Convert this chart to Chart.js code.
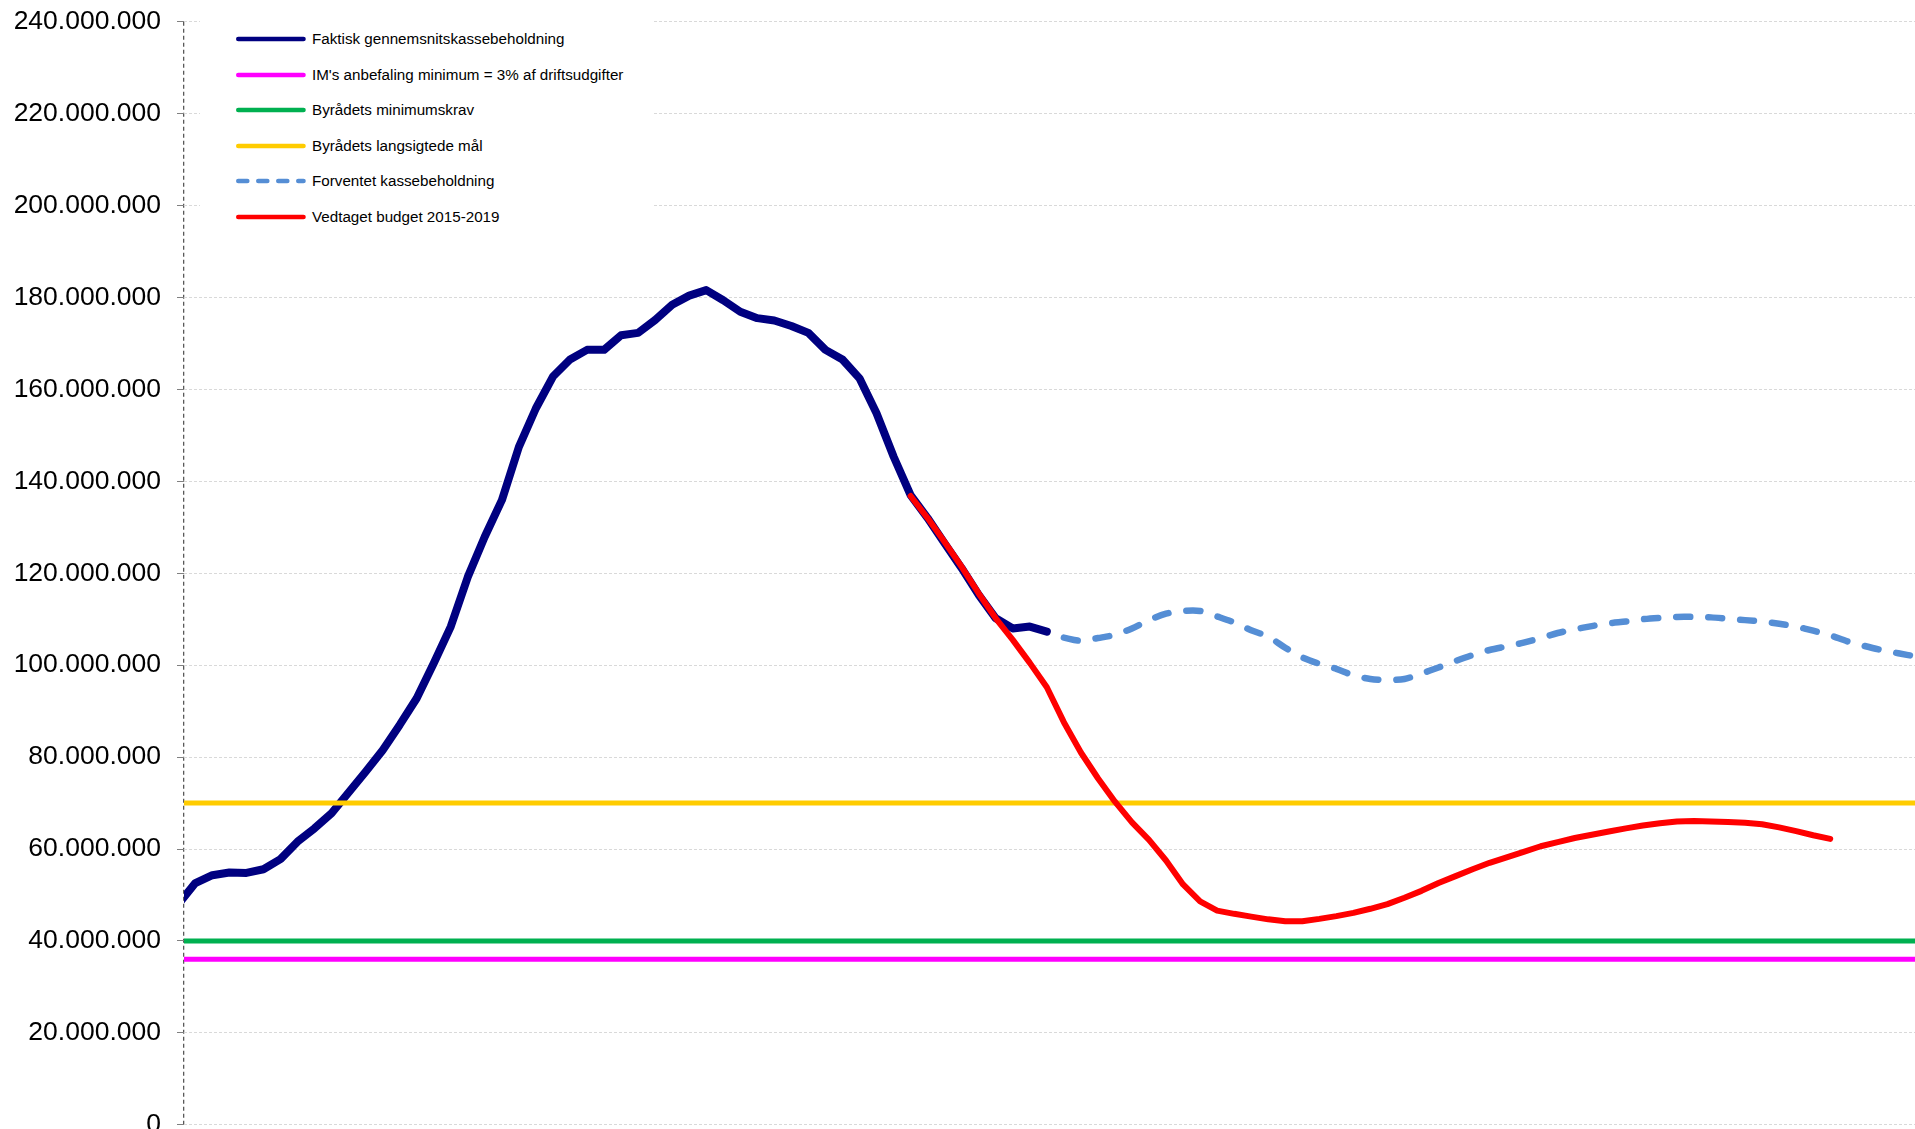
<!DOCTYPE html>
<html>
<head>
<meta charset="utf-8">
<script src="https://cdn.jsdelivr.net/npm/chart.js@4.4.1/dist/chart.umd.min.js"></script>
<style>
  html, body { margin:0; padding:0; background:#fff; overflow:hidden; width:1915px; height:1129px; }
  #wrap { position:relative; width:1915px; height:1129px; overflow:hidden; background:#fff; }
  #chart { position:absolute; left:0; top:0; }
  #legend { position:absolute; left:200px; top:0; width:454px; height:248px; background:#fff;
            font-family:'Liberation Sans', Arial, sans-serif; font-size:15.2px; color:#000; }
  .item { position:absolute; left:0; height:20px; width:454px; }
  .item svg { position:absolute; left:36px; top:4px; }
  .item span { position:absolute; left:112px; top:0; line-height:20px; white-space:nowrap; }
</style>
</head>
<body>
<div id="wrap">
  <canvas id="chart" width="2000" height="1145" style="width:2000px;height:1145px;"></canvas>
  <div id="legend"></div>
</div>
<script>
// ---- Data (mio. kr., one value per period index) ----
const faktiskStart = 0;
const faktisk = [48.0, 52.6, 54.3, 54.9, 54.8, 55.6, 57.8, 61.6, 64.5, 67.8, 72.3, 76.8, 81.5, 87.0, 92.8, 100.4,
  108.4, 119.2, 128.0, 135.9, 147.5, 155.9, 162.8, 166.5, 168.6, 168.6, 171.8, 172.3, 175.1, 178.4, 180.4, 181.6,
  179.4, 176.9, 175.5, 175.0, 173.8, 172.3, 168.6, 166.5, 162.4, 154.8, 145.4, 137.0, 132.0, 126.5, 121.1, 115.3,
  110.2, 108.0, 108.4, 107.3];

const budgetStart = 43;
const budget = [136.8, 132.0, 126.8, 121.4, 115.6, 110.2, 105.5, 100.5, 95.2, 87.6, 81.0, 75.4, 70.3, 65.8, 62.0,
  57.5, 52.3, 48.6, 46.6, 45.9, 45.3, 44.7, 44.3, 44.3, 44.8, 45.4, 46.1, 47.0, 48.0, 49.4, 50.9, 52.6, 54.1, 55.6,
  57.0, 58.2, 59.4, 60.6, 61.5, 62.4, 63.1, 63.8, 64.5, 65.1, 65.6, 66.0, 66.1, 66.0, 65.9, 65.7, 65.4, 64.7, 63.9,
  63.0, 62.2];

const forventetStart = 52;
const forventet = [106.0, 105.3, 105.9, 106.6, 108.0, 109.8, 111.2, 111.8, 111.8, 110.6, 109.3, 107.6, 106.2, 103.8,
  101.7, 100.3, 99.2, 97.8, 97.0, 96.8, 97.0, 98.2, 99.5, 100.9, 102.2, 103.3, 104.1, 104.9, 105.9, 107.0, 107.8,
  108.5, 109.1, 109.5, 110.0, 110.3, 110.5, 110.5, 110.4, 110.1, 109.8, 109.5, 109.0, 108.4, 107.5, 106.5, 105.2,
  104.2, 103.3, 102.6, 101.9, 101.2];

const imMinimum = 36;       // IM's anbefaling minimum = 3% af driftsudgifter
const byraadMinimum = 40;   // Byrådets minimumskrav
const byraadMaal = 70;      // Byrådets langsigtede mål

const yTickValues = [0, 20, 40, 60, 80, 100, 120, 140, 160, 180, 200, 220, 240];

const seriesLabels = [
  'Faktisk gennemsnitskassebeholdning',
  "IM's anbefaling minimum = 3% af driftsudgifter",
  'Byrådets minimumskrav',
  'Byrådets langsigtede mål',
  'Forventet kassebeholdning',
  'Vedtaget budget 2015-2019'
];
const seriesColors = ['#000080', '#FF00FF', '#00B050', '#FFCC00', '#558ED5', '#FF0000'];

// ---- Build ----
const lastIdx = forventetStart + forventet.length - 1;
const pts = (start, arr) => arr.map((v, k) => ({ x: start + k, y: v }));
const flat = v => [{ x: 0, y: v }, { x: lastIdx, y: v }];
const fmt = v => (v === 0 ? '0' : String(Math.round(v * 1e6)).replace(/\B(?=(\d{3})+(?!\d))/g, '.'));

const FONT = "'Liberation Sans', Arial, sans-serif";

new Chart(document.getElementById('chart'), {
  type: 'line',
  data: {
    datasets: [
      { label: seriesLabels[5], data: pts(budgetStart, budget), borderColor: seriesColors[5], borderWidth: 6, order: 1 },
      { label: seriesLabels[4], data: pts(forventetStart, forventet), borderColor: seriesColors[4], borderWidth: 6.5,
        borderDash: [14, 18], tension: 0.3, order: 2 },
      { label: seriesLabels[3], data: flat(byraadMaal), borderColor: seriesColors[3], borderWidth: 5, order: 3 },
      { label: seriesLabels[2], data: flat(byraadMinimum), borderColor: seriesColors[2], borderWidth: 5, order: 4 },
      { label: seriesLabels[1], data: flat(imMinimum), borderColor: seriesColors[1], borderWidth: 5, order: 5 },
      { label: seriesLabels[0], data: pts(faktiskStart, faktisk), borderColor: seriesColors[0], borderWidth: 8, order: 6 }
    ]
  },
  options: {
    responsive: false,
    animation: false,
    devicePixelRatio: 1,
    datasets: { line: { clip: 0 } },
    elements: {
      point: { radius: 0, hoverRadius: 0 },
      line: { borderCapStyle: 'round', borderJoinStyle: 'round', tension: 0, fill: false }
    },
    layout: { padding: { left: 0, right: 0, top: 21.7, bottom: 20.2 } },
    plugins: { legend: { display: false }, tooltip: { enabled: false }, title: { display: false } },
    scales: {
      x: {
        type: 'linear', min: 0.335, max: 106.97,
        afterBuildTicks: s => { s.ticks = [{ value: s.min }]; },
        ticks: { display: false },
        grid: { color: '#595959', lineWidth: 1.3, drawTicks: false },
        border: { display: false, dash: [4, 3] }
      },
      y: {
        min: 0, max: 240,
        afterBuildTicks: s => { s.ticks = yTickValues.map(v => ({ value: v })); },
        afterFit: s => { s.width = 184; s.paddingTop = 0; s.paddingBottom = 0; },
        ticks: { color: '#000', padding: 16, font: { family: FONT, size: 26.5 }, callback: v => fmt(v) },
        grid: { color: '#d9d9d9', lineWidth: 1, tickLength: 7, tickColor: '#808080' },
        border: { display: false, dash: [3, 2] }
      }
    }
  }
});

// ---- Legend (HTML, top-left inside plot) ----
const legend = document.getElementById('legend');
const rowY = [39, 74.6, 110.2, 145.8, 181.4, 217];
seriesLabels.forEach((lab, i) => {
  const d = document.createElement('div');
  d.className = 'item';
  d.style.top = (rowY[i] - 10) + 'px';
  const dash = i === 4 ? ' stroke-dasharray="9 11"' : '';
  d.innerHTML = '<svg width="72" height="12"><line x1="2.3" y1="6" x2="67.5" y2="6" stroke="' + seriesColors[i] +
    '" stroke-width="4.6" stroke-linecap="round"' + dash + '/></svg><span></span>';
  d.querySelector('span').textContent = lab;
  legend.appendChild(d);
});
</script>
</body>
</html>
